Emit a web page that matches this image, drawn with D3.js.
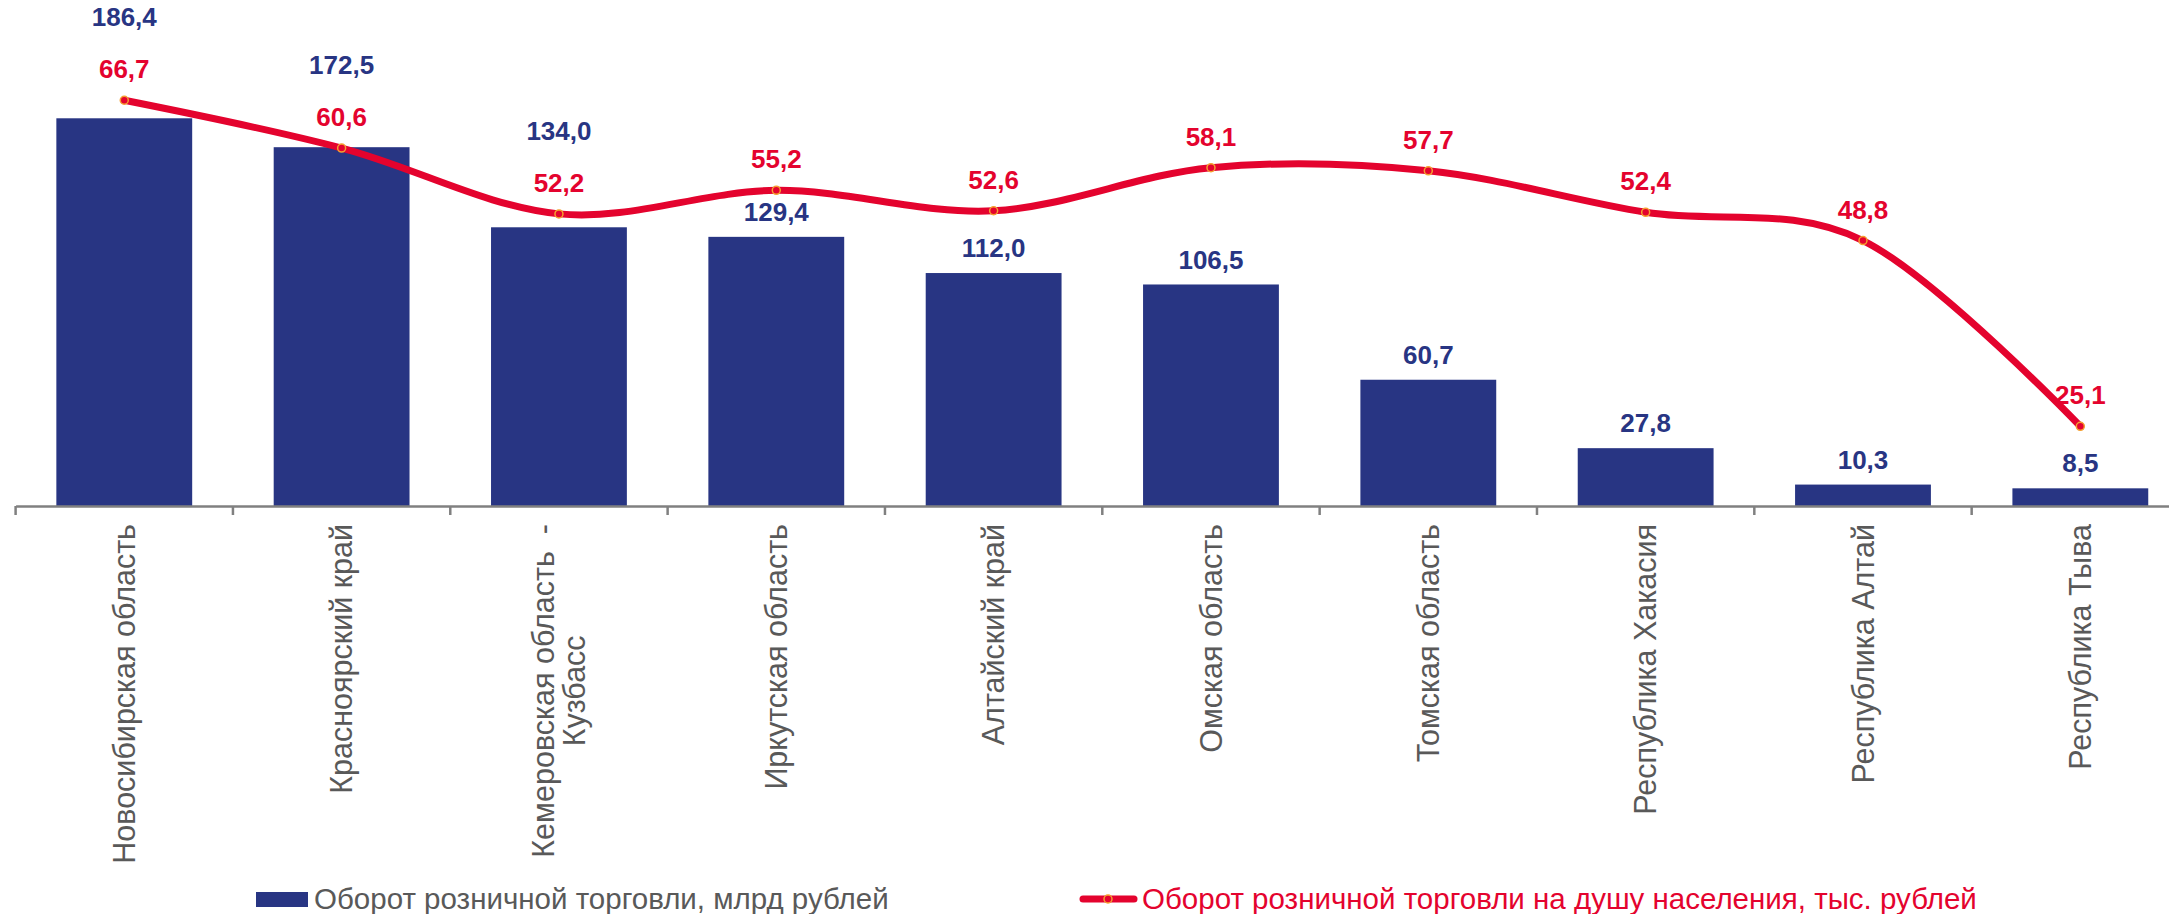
<!DOCTYPE html>
<html>
<head>
<meta charset="utf-8">
<script src="https://cdn.jsdelivr.net/npm/d3@7"></script>
<style>
  body { margin: 0; background: #fff; }
  text { white-space: pre; font-family: "Liberation Sans", Arial, sans-serif; }
</style>
</head>
<body>
<svg id="chart" width="2169" height="914"></svg>
<script>
const regions = [
  "Новосибирская область",
  "Красноярский край",
  "Кемеровская область  -\nКузбасс",
  "Иркутская область",
  "Алтайский край",
  "Омская область",
  "Томская область",
  "Республика Хакасия",
  "Республика Алтай",
  "Республика Тыва",
];
const turnover = [186.4, 172.5, 134.0, 129.4, 112.0, 106.5, 60.7, 27.8, 10.3, 8.5];
const perCapita = [66.7, 60.6, 52.2, 55.2, 52.6, 58.1, 57.7, 52.4, 48.8, 25.1];
const seriesNames = [
  "Оборот розничной торговли, млрд рублей",
  "Оборот розничной торговли на душу населения, тыс. рублей",
];

const navy = "#283583";
const red = "#e4032e";
const grey = "#595959";
const fmt = (v) => v.toFixed(1).replace(".", ",");

const svg = d3.select("#chart");
const axisY = 506;

const x = d3
  .scaleBand()
  .domain(regions)
  .range([15.6, 2189])
  .paddingInner(0.375)
  .paddingOuter(0.1875);
const cx = (d) => x(d) + x.bandwidth() / 2;

const yBar = d3.scaleLinear().domain([0, 200]).range([axisY, 90]);
const yLine = d3.scaleLinear().domain([0, 80]).range([623, -4]);

// bars
svg
  .selectAll("rect.bar")
  .data(regions)
  .enter()
  .append("rect")
  .attr("class", "bar")
  .attr("x", (d) => x(d))
  .attr("width", x.bandwidth())
  .attr("y", (d, i) => yBar(turnover[i]))
  .attr("height", (d, i) => axisY - yBar(turnover[i]))
  .attr("fill", navy);

// category axis (ticks sit between the bands)
const axis = svg
  .append("g")
  .attr("transform", `translate(0,${axisY})`)
  .call(d3.axisBottom(x).tickSize(0).tickSizeOuter(0).tickFormat(""));
axis.select(".domain").attr("stroke", "#808080").attr("stroke-width", 2.5);
axis.selectAll(".tick").remove();

const gap = x.step() * x.paddingInner();
const bounds = regions.map((d) => x(d) - gap / 2);
bounds.push(x(regions[regions.length - 1]) + x.bandwidth() + gap / 2);
svg
  .selectAll("line.tick")
  .data(bounds)
  .enter()
  .append("line")
  .attr("x1", (d) => d)
  .attr("x2", (d) => d)
  .attr("y1", axisY)
  .attr("y2", axisY + 9)
  .attr("stroke", "#808080")
  .attr("stroke-width", 2.5);

// rotated category labels
const labelTop = axisY + 18;
const catLabels = svg
  .selectAll("g.cat")
  .data(regions)
  .enter()
  .append("g")
  .attr("class", "cat")
  .attr("transform", (d) => `translate(${cx(d)},${labelTop}) rotate(-90)`);

catLabels.each(function (d) {
  const g = d3.select(this);
  const lines = d.split("\n");
  const lh = 31;
  const t = g
    .append("text")
    .attr("font-size", 30.5)
    .attr("fill", grey)
    .attr("text-anchor", "middle");
  t.selectAll("tspan")
    .data(lines)
    .enter()
    .append("tspan")
    .attr("x", 0)
    .attr("y", (l, i) => (i - (lines.length - 1) / 2) * lh)
    .attr("dy", "0.35em")
    .text((l) => l);
  const w = t.node().getBBox().width;
  t.attr("transform", `translate(${-w / 2},0)`);
});

// smoothed per-capita line
const line = d3
  .line()
  .x((d) => cx(d))
  .y((d, i) => yLine(perCapita[i]))
  .curve(d3.curveCatmullRom.alpha(0));

svg
  .append("path")
  .attr("d", line(regions))
  .attr("fill", "none")
  .attr("stroke", red)
  .attr("stroke-width", 7)
  .attr("stroke-linecap", "round");

svg
  .selectAll("circle.pt")
  .data(regions)
  .enter()
  .append("circle")
  .attr("class", "pt")
  .attr("cx", (d) => cx(d))
  .attr("cy", (d, i) => yLine(perCapita[i]))
  .attr("r", 4)
  .attr("fill", red)
  .attr("stroke", "#f5a030")
  .attr("stroke-width", 1.5);

// line labels
const lineLabelY = (i) => yLine(perCapita[i]) - 31;
svg
  .selectAll("text.lv")
  .data(regions)
  .enter()
  .append("text")
  .attr("class", "lv")
  .attr("x", (d) => cx(d))
  .attr("y", (d, i) => lineLabelY(i))
  .attr("dy", "0.35em")
  .attr("text-anchor", "middle")
  .attr("font-size", 26)
  .attr("font-weight", "bold")
  .attr("fill", red)
  .text((d, i) => fmt(perCapita[i]));

// bar labels, lifted above the line label where the line crosses them
svg
  .selectAll("text.bv")
  .data(regions)
  .enter()
  .append("text")
  .attr("class", "bv")
  .attr("x", (d) => cx(d))
  .attr("y", (d, i) => {
    const normal = yBar(turnover[i]) - 25;
    return normal < yLine(perCapita[i]) + 12 ? lineLabelY(i) - 52 : normal;
  })
  .attr("dy", "0.35em")
  .attr("text-anchor", "middle")
  .attr("font-size", 26)
  .attr("font-weight", "bold")
  .attr("fill", navy)
  .text((d, i) => fmt(turnover[i]));

// legend
const legY = 899;
svg
  .append("rect")
  .attr("x", 256)
  .attr("y", legY - 7)
  .attr("width", 52)
  .attr("height", 15)
  .attr("fill", navy);
svg
  .append("text")
  .attr("x", 314)
  .attr("y", legY)
  .attr("dy", "0.35em")
  .attr("font-size", 29.5)
  .attr("fill", grey)
  .text(seriesNames[0]);

svg
  .append("line")
  .attr("x1", 1083)
  .attr("x2", 1134)
  .attr("y1", legY)
  .attr("y2", legY)
  .attr("stroke", red)
  .attr("stroke-width", 7)
  .attr("stroke-linecap", "round");
svg
  .append("circle")
  .attr("cx", 1108)
  .attr("cy", legY)
  .attr("r", 4)
  .attr("fill", red)
  .attr("stroke", "#f5a030")
  .attr("stroke-width", 1.5);
svg
  .append("text")
  .attr("x", 1142)
  .attr("y", legY)
  .attr("dy", "0.35em")
  .attr("font-size", 29.5)
  .attr("fill", red)
  .text(seriesNames[1]);
</script>
</body>
</html>
